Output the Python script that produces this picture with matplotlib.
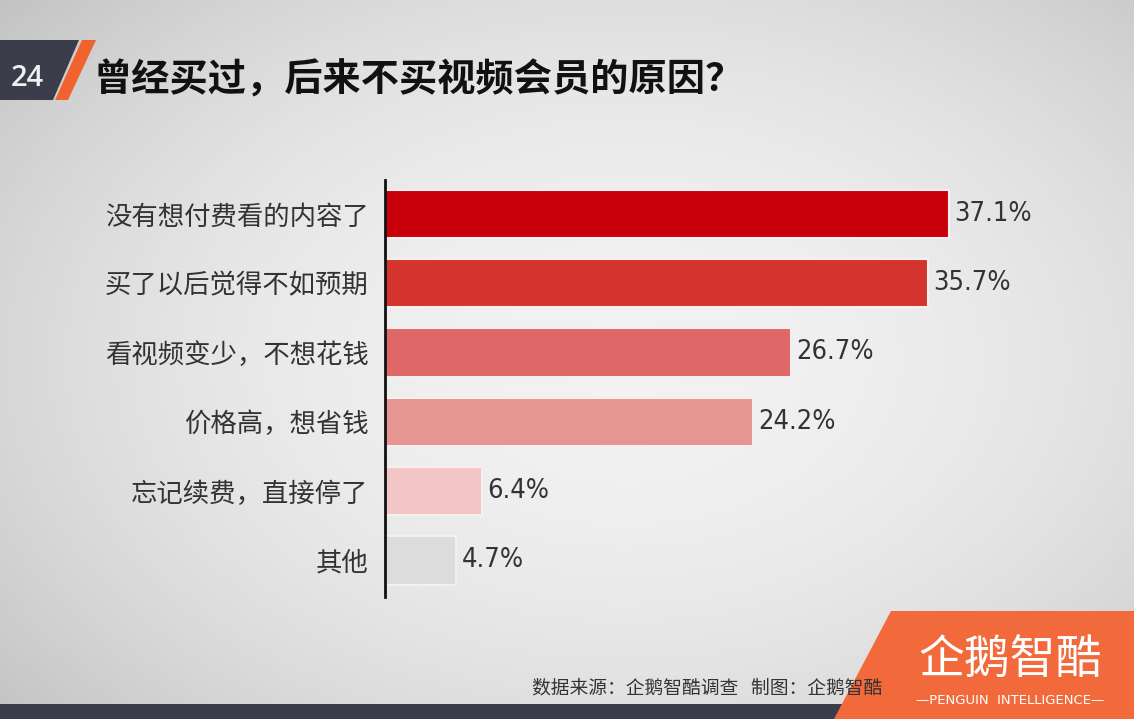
import numpy as np
import matplotlib
matplotlib.use("Agg")
import matplotlib.pyplot as plt
from matplotlib.patches import Polygon, Rectangle
from matplotlib import font_manager as fm

categories = ["没有想付费看的内容了", "买了以后觉得不如预期", "看视频变少，不想花钱",
              "价格高，想省钱", "忘记续费，直接停了", "其他"]
values = [37.1, 35.7, 26.7, 24.2, 6.4, 4.7]
value_labels = ["37.1%", "35.7%", "26.7%", "24.2%", "6.4%", "4.7%"]
bar_colors = ["#c8000b", "#d3342d", "#de6767", "#e69593", "#f2c6c7", "#dcdcdc"]
title = "曾经买过，后来不买视频会员的原因？"
page_no = "24"
source = "数据来源：企鹅智酷调查   制图：企鹅智酷"

CJK = ["Noto Sans CJK SC", "DejaVu Sans"]
plt.rcParams['font.family'] = CJK

names = {f.name for f in fm.fontManager.ttflist}
num_family = ["Liberation Sans Narrow"] if "Liberation Sans Narrow" in names else ["DejaVu Sans"]

W, H = 1134, 719
fig = plt.figure(figsize=(W / 100, H / 100), dpi=100)

# background gradient
bg = fig.add_axes([0, 0, 1, 1])
bg.set_xlim(0, W)
bg.set_ylim(H, 0)
bg.axis("off")
yy, xx = np.mgrid[0:H:4, 0:W:4]
r = np.sqrt(((xx - W * 0.55) / (W * 0.75)) ** 2 + ((yy - H * 0.5) / (H * 0.8)) ** 2)
shade = 0.95 - 0.2 * np.clip(r, 0, 1.2) ** 2
img = np.dstack([shade, shade, shade])
bg.imshow(img, extent=[0, W, H, 0], aspect="auto", zorder=0)

# header box and stripe
bg.add_patch(Polygon([(0, 40), (79, 40), (53, 100), (0, 100)], closed=True,
                     facecolor="#3b3d4b", edgecolor="none", zorder=2))
bg.add_patch(Polygon([(82, 40), (96, 40), (68, 100), (55, 100)], closed=True,
                     facecolor="#f2622e", edgecolor="none", zorder=2))
bg.text(27, 79, page_no, color="#f0f0f0", fontsize=21, fontweight="semibold",
        ha="center", va="center", family=["Open Sans", "DejaVu Sans"], zorder=3)
bg.text(93, 80, title, color="#111111", fontsize=27.5, fontweight="bold",
        ha="left", va="center", zorder=3)

# bottom dark band and orange logo panel
bg.add_patch(Rectangle((0, 704), W, 15, facecolor="#3b3d4b", edgecolor="none", zorder=2))
bg.add_patch(Polygon([(891, 611), (W, 611), (W, H), (834, H)], closed=True,
                     facecolor="#f26a3b", edgecolor="none", zorder=3))
bg.text(1010, 660, "企鹅智酷", color="white", fontsize=33, ha="center", va="center", zorder=4)
bg.text(1010, 700, "—PENGUIN  INTELLIGENCE—", color="white", fontsize=9.5,
        ha="center", va="center", family=["DejaVu Sans"], zorder=4)
bg.text(882, 688, source, color="#333333", fontsize=13.5,
        ha="right", va="center", zorder=4)

# chart axes
x0, x1 = 385, 1069
xmax = 45
ax = fig.add_axes([x0 / W, 1 - 597 / H, (x1 - x0) / W, (597 - 180) / H])
ax.set_facecolor("none")
y = np.arange(len(categories))
ax.barh(y, values, height=0.7, color=bar_colors, edgecolor="#f7eeee", linewidth=1.5, zorder=2)
ax.set_xlim(0, xmax)
ax.set_ylim(5.53, -0.49)
for yi, v, lab in zip(y, values, value_labels):
    ax.text(v + 0.35, yi, lab, fontsize=19.5, color="#333333", ha="left", va="center",
            family=num_family, fontstretch="condensed")
ax.set_yticks(y)
ax.set_yticklabels(categories, fontsize=19, color="#333333", fontweight="light")
ax.tick_params(axis="y", length=0, pad=12)
ax.set_xticks([])
for s in ["top", "right", "bottom"]:
    ax.spines[s].set_visible(False)
ax.spines["left"].set_color("#111111")
ax.spines["left"].set_linewidth(2)

fig.savefig("out.png", dpi=100)
